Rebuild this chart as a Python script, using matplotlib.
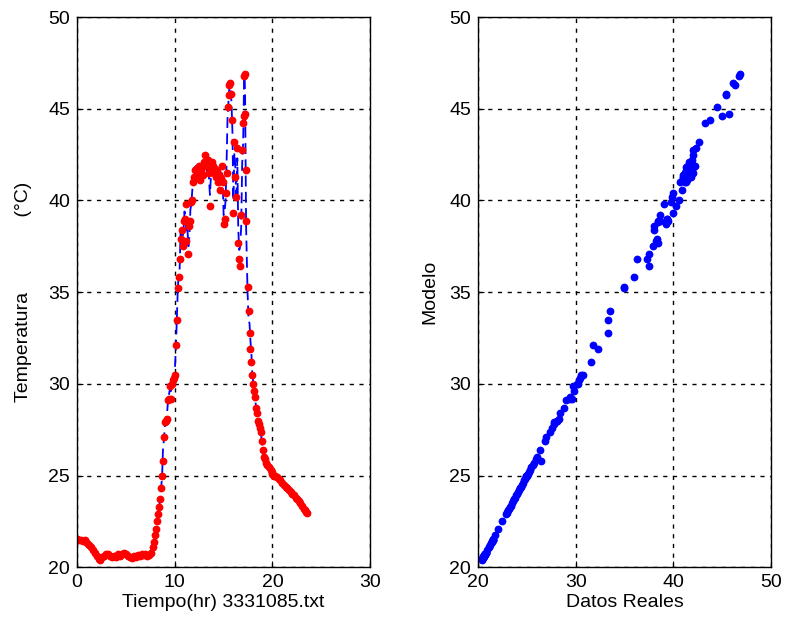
import matplotlib
matplotlib.use("Agg")
from matplotlib import pyplot as plt

plt.rcParams['font.family'] = ['Liberation Sans', 'DejaVu Sans']

# hora del dia (hr)
tiempo = [
    0.0, 0.2, 0.4, 0.6, 0.8, 1.0, 1.2, 1.4, 1.6, 1.8,
    2.0, 2.2, 2.4, 2.6, 2.8, 3.0, 3.2, 3.4, 3.6, 3.8,
    4.0, 4.2, 4.4, 4.6, 4.8, 5.0, 5.2, 5.4, 5.6, 5.8,
    6.0, 6.2, 6.4, 6.6, 6.8, 7.0, 7.2, 7.4, 7.6, 7.8,
    7.9, 8.0, 8.1, 8.2, 8.3, 8.4, 8.5, 8.6, 8.7, 8.8,
    8.9, 9.0, 9.1, 9.2, 9.3, 9.4, 9.5, 9.6, 9.7, 9.8,
    9.9, 10.0, 10.1, 10.2, 10.3, 10.4, 10.5, 10.6, 10.7, 10.8,
    10.9, 11.0, 11.1, 11.2, 11.3, 11.4, 11.5, 11.6, 11.7, 11.8,
    11.9, 12.0, 12.1, 12.2, 12.3, 12.4, 12.5, 12.6, 12.7, 12.8,
    12.9, 13.0, 13.1, 13.2, 13.3, 13.4, 13.5, 13.6, 13.7, 13.8,
    13.9, 14.0, 14.1, 14.2, 14.3, 14.4, 14.5, 14.6, 14.7, 14.8,
    14.9, 15.0, 15.1, 15.2, 15.3, 15.4, 15.5, 15.6, 15.7, 15.8,
    15.9, 16.0, 16.1, 16.2, 16.3, 16.4, 16.5, 16.6, 16.7, 16.8,
    16.9, 17.0, 17.05, 17.1, 17.15, 17.2, 17.25, 17.3, 17.45, 17.55,
    17.65, 17.75, 17.85, 17.9, 18.0, 18.1, 18.2, 18.3, 18.4, 18.5,
    18.6, 18.7, 18.8, 18.9, 19.0, 19.1, 19.2, 19.3, 19.45, 19.6,
    19.8, 19.9, 20.0, 20.1, 20.2, 20.3, 20.5, 20.65, 20.8, 21.0,
    21.2, 21.4, 21.5, 21.7, 21.9, 22.0, 22.2, 22.4, 22.5, 22.7,
    22.8, 23.0, 23.2, 23.3, 23.4, 23.5,
]

# temperatura medida (linea azul)
reales = [
    21.55, 21.5, 21.5, 21.45, 21.5, 21.35, 21.2, 21.1, 20.95, 20.8,
    20.6, 20.45, 20.4, 20.55, 20.6, 20.7, 20.75, 20.6, 20.55, 20.6,
    20.55, 20.7, 20.6, 20.75, 20.8, 20.75, 20.6, 20.55, 20.5, 20.6,
    20.55, 20.65, 20.6, 20.7, 20.65, 20.7, 20.6, 20.65, 20.8, 21.1,
    21.4, 21.75, 22.1, 22.5, 22.9, 23.3, 23.7, 24.3, 24.9, 26.5,
    27.0, 27.8, 28.1, 28.3, 29.0, 29.4, 29.7, 29.6, 30.1, 30.3,
    30.4, 30.6, 31.8, 33.3, 35.0, 36.0, 36.3, 38.3, 38.0, 37.9,
    38.4, 39.4, 39.0, 38.2, 38.4, 37.5, 38.0, 39.5, 39.8, 40.6,
    40.7, 41.0, 41.4, 41.9, 41.5, 41.2, 41.6, 41.4, 41.3, 41.5,
    41.7, 41.8, 42.0, 42.2, 41.6, 41.9, 41.2, 40.3, 41.3, 41.6,
    41.8, 41.2, 41.5, 41.6, 41.3, 41.2, 41.0, 40.9, 41.0, 41.5,
    41.3, 39.2, 39.4, 40.0, 42.0, 44.5, 45.4, 46.3, 46.1, 45.4,
    43.8, 40.0, 42.6, 41.8, 39.9, 42.3, 38.4, 37.3, 37.5, 38.6,
    42.0, 43.2, 45.0, 46.7, 46.8, 45.7, 41.9, 38.6, 35.0, 33.5,
    33.3, 32.3, 31.6, 30.8, 30.2, 29.8, 29.4, 28.8, 28.4, 28.1,
    27.8, 27.6, 27.4, 26.9, 26.4, 26.0, 25.9, 25.7, 25.6, 25.45,
    25.3, 25.2, 25.1, 25.05, 25.0, 24.95, 24.9, 24.8, 24.75, 24.6,
    24.5, 24.4, 24.3, 24.2, 24.1, 24.0, 23.95, 23.8, 23.7, 23.6,
    23.5, 23.35, 23.2, 23.1, 23.0, 22.97,
]

# temperatura del modelo (puntos rojos)
modelo = [
    21.55, 21.5, 21.5, 21.45, 21.5, 21.35, 21.2, 21.1, 20.95, 20.8,
    20.6, 20.45, 20.4, 20.55, 20.6, 20.7, 20.75, 20.6, 20.55, 20.6,
    20.55, 20.7, 20.6, 20.75, 20.8, 20.75, 20.6, 20.55, 20.5, 20.6,
    20.55, 20.65, 20.6, 20.7, 20.65, 20.7, 20.6, 20.65, 20.8, 21.1,
    21.4, 21.75, 22.1, 22.5, 22.9, 23.3, 23.7, 24.3, 24.95, 25.8,
    27.1, 27.9, 28.0, 28.1, 29.1, 29.2, 29.9, 29.2, 30.0, 30.2,
    30.3, 30.5, 32.1, 33.5, 35.2, 35.8, 36.8, 37.9, 38.4, 37.5,
    38.9, 39.0, 39.8, 37.8, 38.8, 37.1, 38.6, 38.9, 39.9, 40.0,
    41.0, 41.3, 41.65, 41.7, 41.2, 41.5, 41.9, 41.1, 41.6, 41.8,
    41.4, 42.1, 42.5, 41.9, 41.98, 42.2, 41.5, 39.7, 41.8, 42.1,
    41.9, 41.5, 41.7, 41.3, 41.6, 41.0, 41.4, 40.55, 41.2, 41.9,
    41.0, 38.7, 39.0, 40.4, 41.5, 45.1, 45.76, 46.3, 46.4, 45.8,
    44.4, 39.3, 43.2, 41.3, 40.2, 42.85, 37.7, 36.8, 36.4, 39.2,
    42.75, 44.2, 44.6, 46.8, 46.9, 44.7, 41.65, 38.9, 35.3, 33.96,
    32.8, 31.9, 31.2, 30.5, 30.0, 29.6, 29.3, 28.7, 28.4, 28.0,
    27.8, 27.6, 27.4, 26.9, 26.4, 26.0, 25.9, 25.7, 25.6, 25.45,
    25.3, 25.2, 25.1, 25.05, 25.0, 24.95, 24.9, 24.8, 24.75, 24.6,
    24.5, 24.4, 24.3, 24.2, 24.1, 24.0, 23.95, 23.8, 23.7, 23.6,
    23.5, 23.35, 23.2, 23.1, 23.0, 22.97,
]


def estilo(ax):
    ax.grid(True, color='black', linestyle=(0, (3, 4)), linewidth=1.0)
    ax.tick_params(direction='in', labelsize=14, length=4, pad=5)
    for s in ax.spines.values():
        s.set_linewidth(1.0)


fig = plt.figure(figsize=(7.86, 6.31), dpi=100)
ax1 = fig.add_axes([0.098, 0.101, 0.373, 0.872])
ax2 = fig.add_axes([0.608, 0.101, 0.373, 0.872])

ax1.plot(tiempo, reales, color='blue', linestyle=(0, (6, 3)), linewidth=1.3)
ax1.plot(tiempo, modelo, linestyle='none', marker='o', color='red', markersize=4.6)
ax1.set_xlim(0, 30)
ax1.set_ylim(20, 50)
ax1.set_xticks([0, 10, 20, 30])
ax1.set_yticks([20, 25, 30, 35, 40, 45, 50])
ax1.set_xlabel('Tiempo(hr) 3331085.txt', fontsize=14, labelpad=2)
ax1.set_ylabel('Temperatura              (\u00b0C)', fontsize=14, labelpad=12)
estilo(ax1)

ax2.plot(reales, modelo, linestyle='none', marker='o', color='blue', markersize=4.6)
ax2.set_xlim(20, 50)
ax2.set_ylim(20, 50)
ax2.set_xticks([20, 30, 40, 50])
ax2.set_yticks([20, 25, 30, 35, 40, 45, 50])
ax2.set_xlabel('Datos Reales', fontsize=14, labelpad=2)
ax2.set_ylabel('Modelo', fontsize=14, labelpad=8)
estilo(ax2)

fig.savefig('out.png', dpi=100)
